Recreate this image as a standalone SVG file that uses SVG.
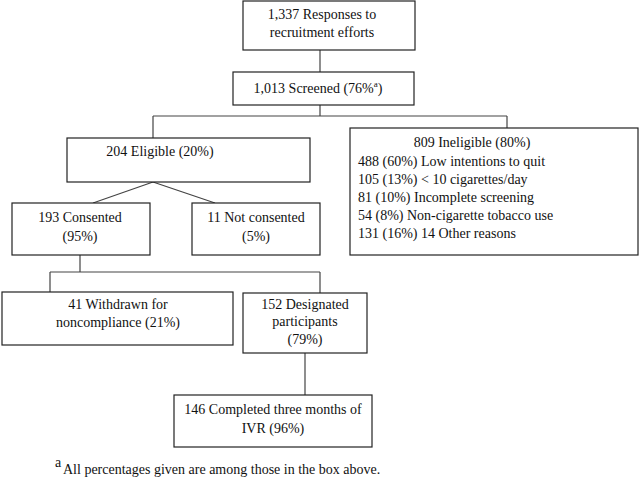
<svg xmlns="http://www.w3.org/2000/svg" width="640" height="479" viewBox="0 0 640 479">
<style>
.box{fill:#fff;stroke:#222;stroke-width:1.2}
.ln{stroke:#444;stroke-width:1.2;fill:none}
text{font-family:'Liberation Serif','Times New Roman','DejaVu Serif',serif;font-size:14px;fill:#111}
.c{text-anchor:middle}
</style>
<rect width="640" height="479" fill="#fff"/>
<g font-family="Liberation Serif, DejaVu Serif, serif">
<g id="connectors">
<path class="ln" d="M320 50V72"/>
<path class="ln" d="M320 105V116M153 116H507M153 116V138M507 116V128"/>
<path class="ln" d="M153 182L93 203M153 182L215 203"/>
<path class="ln" d="M80 255V272M50 272H320M50 272V292M320 272V293"/>
<path class="ln" d="M305 353V395"/>
</g>
<g id="n1"><rect class="box" x="243" y="1" width="172" height="49"/>
<text class="c" x="322" y="19">1,337 Responses to</text><text class="c" x="322" y="37">recruitment efforts</text></g>
<g id="n2"><rect class="box" x="233" y="72" width="181" height="33"/>
<text class="c" x="318" y="93">1,013 Screened (76%<tspan font-size="9" dy="-6">a</tspan><tspan dy="6">)</tspan></text></g>
<g id="n3"><rect class="box" x="67" y="138" width="243" height="44"/>
<text class="c" x="160" y="156">204 Eligible (20%)</text></g>
<g id="n4"><rect class="box" x="350" y="128" width="288" height="127"/>
<text class="c" x="472" y="147">809 Ineligible (80%)</text>
<text x="358" y="166">488 (60%) Low intentions to quit</text>
<text x="358" y="184">105 (13%) &lt; 10 cigarettes/day</text>
<text x="358" y="202">81 (10%) Incomplete screening</text>
<text x="358" y="220">54 (8%) Non-cigarette tobacco use</text>
<text x="358" y="238">131 (16%) 14 Other reasons</text></g>
<g id="n5"><rect class="box" x="12" y="203" width="138" height="52"/>
<text class="c" x="80" y="222">193 Consented</text><text class="c" x="80" y="241">(95%)</text></g>
<g id="n6"><rect class="box" x="192" y="203" width="128" height="52"/>
<text class="c" x="256" y="222">11 Not consented</text><text class="c" x="256" y="241">(5%)</text></g>
<g id="n7"><rect class="box" x="2" y="292" width="231" height="53"/>
<text class="c" x="118" y="309">41 Withdrawn for</text><text class="c" x="118" y="327">noncompliance (21%)</text></g>
<g id="n8"><rect class="box" x="243" y="293" width="124" height="60"/>
<text class="c" x="305" y="309">152 Designated</text><text class="c" x="305" y="326">participants</text><text class="c" x="305" y="344">(79%)</text></g>
<g id="n9"><rect class="box" x="174" y="395" width="198" height="52"/>
<text class="c" x="273" y="414">146 Completed three months of</text><text class="c" x="273" y="433">IVR (96%)</text></g>
<text x="55" y="467" font-size="9">a</text>
<text x="63" y="474">All percentages given are among those in the box above.</text>
</g>
</svg>
